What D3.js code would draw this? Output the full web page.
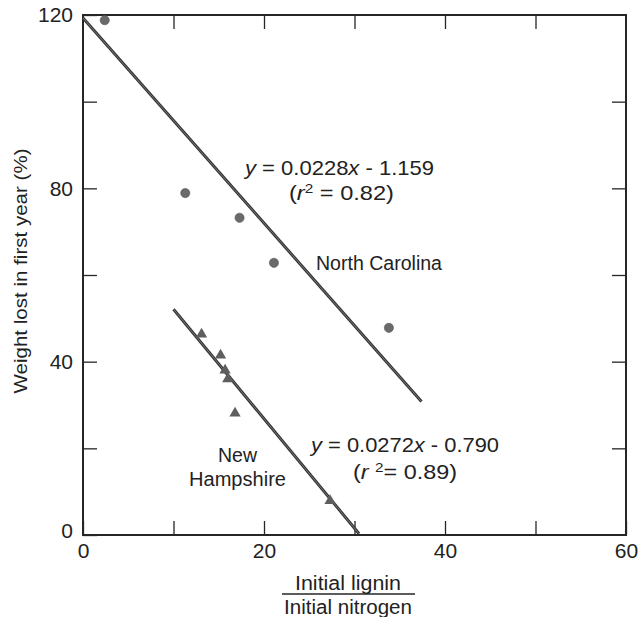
<!DOCTYPE html>
<html>
<head>
<meta charset="utf-8">
<script src="https://cdn.jsdelivr.net/npm/d3@7/dist/d3.min.js"></script>
<style>
  html, body { margin: 0; padding: 0; background: #fff; }
  svg { display: block; }
  text { font-family: "Liberation Sans", Arial, sans-serif; fill: #222; }
</style>
</head>
<body>
<svg id="chart" width="640" height="617"></svg>
<script>
// North Carolina litter (circles)
const ncRatio  = [2.4, 11.3, 17.3, 21.1, 33.8];
const ncWeight = [118.8, 78.9, 73.2, 62.8, 47.8];
// New Hampshire litter (triangles)
const nhRatio  = [13.1, 15.2, 15.7, 16.0, 16.8, 27.3];
const nhWeight = [46.3, 41.5, 38.0, 36.0, 28.1, 7.9];
// fitted lines, endpoints
const ncFitX = [0, 37.4],  ncFitY = [119.3, 30.8];
const nhFitX = [10.0, 30.5], nhFitY = [52.1, 0.3];

const xTicks = [0, 10, 20, 30, 40, 50, 60];
const xLabels = [0, 20, 40, 60];
const yTicks = [0, 20, 40, 60, 80, 100, 120];
const yLabels = [0, 40, 80, 120];

const svg = d3.select("#chart");
const x = d3.scaleLinear().domain([0, 60]).range([83, 626]);
const y = d3.scaleLinear().domain([0, 120]).range([535, 15]);

const ink = "#262626";

// axes with inward ticks
const fmt = labels => d => labels.includes(d) ? d : "";
const gB = svg.append("g").attr("transform", `translate(0,${y(0)})`)
  .call(d3.axisBottom(x).tickValues(xTicks).tickSize(-14).tickPadding(8).tickFormat(fmt(xLabels)));
const gT = svg.append("g").attr("transform", `translate(0,${y(120)})`)
  .call(d3.axisTop(x).tickValues(xTicks.slice(1, -1)).tickSize(-14).tickFormat(""));
const gL = svg.append("g").attr("transform", `translate(${x(0)},0)`)
  .call(d3.axisLeft(y).tickValues(yTicks).tickSize(-14).tickPadding(10).tickFormat(fmt(yLabels)));
const gR = svg.append("g").attr("transform", `translate(${x(60)},0)`)
  .call(d3.axisRight(y).tickValues(yTicks.slice(1, -1)).tickSize(-14).tickFormat(""));

[gB, gT, gL, gR].forEach(g => {
  g.select(".domain").remove();
  g.selectAll(".tick line").attr("stroke", ink).attr("stroke-width", 1.3);
  g.selectAll(".tick text").attr("font-size", 21).attr("fill", "#222")
    .attr("font-family", "Liberation Sans, Arial, sans-serif");
});
gL.selectAll(".tick text").filter(d => d === 0).attr("dy", "0.1em");

// plot frame
svg.append("rect")
  .attr("x", x(0)).attr("y", y(120))
  .attr("width", x(60) - x(0)).attr("height", y(0) - y(120))
  .attr("fill", "none").attr("stroke", ink).attr("stroke-width", 2);

// regression lines
const line = d3.line().x(d => x(d[0])).y(d => y(d[1]));
[[ncFitX, ncFitY], [nhFitX, nhFitY]].forEach(([fx, fy]) => {
  const pts = fx.map((v, i) => [v, fy[i]]);
  svg.append("path").attr("d", line(pts))
    .attr("stroke", "#333").attr("stroke-width", 3).attr("fill", "none");
  svg.append("path").attr("d", line(pts))
    .attr("stroke", "#8a8a8a").attr("stroke-width", 0.8).attr("fill", "none");
});

// points
svg.append("g").selectAll("circle")
  .data(ncRatio.map((v, i) => [v, ncWeight[i]]))
  .join("circle")
  .attr("cx", d => x(d[0])).attr("cy", d => y(d[1])).attr("r", 4.6)
  .attr("fill", "#6a6a6a").attr("stroke", "#555").attr("stroke-width", 0.6);

const tri = d3.symbol().type(d3.symbolTriangle).size(55);
svg.append("g").selectAll("path")
  .data(nhRatio.map((v, i) => [v, nhWeight[i]]))
  .join("path")
  .attr("d", tri)
  .attr("transform", d => `translate(${x(d[0])},${y(d[1])})`)
  .attr("fill", "#5e5e5e");

// annotations
function eq(xp, yp, w, parts, size) {
  const t = svg.append("text").attr("x", xp).attr("y", yp).attr("font-size", size)
    .attr("textLength", w).attr("lengthAdjust", "spacingAndGlyphs");
  parts.forEach(p => {
    const s = t.append("tspan").text(p.t);
    if (p.i) s.attr("font-style", "italic");
    if (p.sup) s.attr("dy", -7).attr("font-size", size * 0.65);
    if (p.down) s.attr("dy", 7);
  });
  return t;
}
eq(245, 175, 189, [{t: "y", i: 1}, {t: " = 0.0228"}, {t: "x", i: 1}, {t: " - 1.159"}], 21);
eq(289, 200, 105, [{t: "("}, {t: "r", i: 1}, {t: "2", sup: 1}, {t: " = 0.82)", down: 1}], 21);
eq(311, 452, 188, [{t: "y", i: 1}, {t: " = 0.0272"}, {t: "x", i: 1}, {t: " - 0.790"}], 21);
eq(353, 479, 104, [{t: "("}, {t: "r", i: 1}, {t: " "}, {t: "2", sup: 1}, {t: "= 0.89)", down: 1}], 21);

const label = (xp, yp, w, s) => svg.append("text").attr("x", xp).attr("y", yp)
  .attr("font-size", 20).attr("textLength", w).attr("lengthAdjust", "spacingAndGlyphs").text(s);
label(316, 270, 126, "North Carolina");
label(218, 462, 39, "New");
label(189, 486, 97, "Hampshire");

// y axis title
svg.append("text")
  .attr("transform", "translate(27,271) rotate(-90)")
  .attr("text-anchor", "middle").attr("font-size", 19)
  .attr("textLength", 245).attr("lengthAdjust", "spacingAndGlyphs")
  .text("Weight lost in first year (%)");

// x axis title as a fraction
const cx = 348;
svg.append("text").attr("x", cx).attr("y", 590).attr("text-anchor", "middle")
  .attr("font-size", 20).attr("textLength", 106).attr("lengthAdjust", "spacingAndGlyphs")
  .text("Initial lignin");
svg.append("line").attr("x1", 282).attr("x2", 415).attr("y1", 594).attr("y2", 594)
  .attr("stroke", ink).attr("stroke-width", 1.5);
svg.append("text").attr("x", cx).attr("y", 614).attr("text-anchor", "middle")
  .attr("font-size", 20).attr("textLength", 128).attr("lengthAdjust", "spacingAndGlyphs")
  .text("Initial nitrogen");
</script>
</body>
</html>
